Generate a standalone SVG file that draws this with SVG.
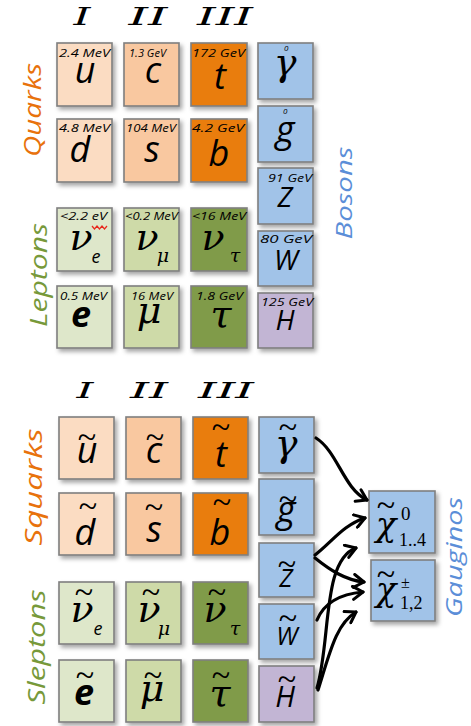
<svg xmlns="http://www.w3.org/2000/svg" width="471" height="726" viewBox="0 0 471 726">
<defs>
<filter id="sh" x="-20%" y="-20%" width="150%" height="150%">
<feDropShadow dx="2.5" dy="3" stdDeviation="2" flood-color="#000" flood-opacity="0.35"/>
</filter>
<marker id="ah" markerUnits="userSpaceOnUse" markerWidth="16" markerHeight="16" viewBox="0 0 16 16" refX="13" refY="8" orient="auto">
<path d="M3,1.5 L13,8 L3,14.5" fill="none" stroke="#000" stroke-width="3" stroke-linecap="round" stroke-linejoin="round"/>
</marker>
</defs>
<style>
rect{stroke:#7f7f7f;stroke-width:1.6;filter:url(#sh)}
.q1{fill:#fbdcc2}.q2{fill:#f9c8a0}.q3{fill:#e97d0b}
.l1{fill:#dee7ca}.l2{fill:#cedaa8}.l3{fill:#809b4a}
.bo{fill:#a1c3e8}.hg{fill:#c2b5d4}
text{fill:#000}
.s{font-family:"Open Sans",sans-serif;font-style:italic;font-size:36px;text-anchor:middle}
.g{font-family:"DejaVu Serif",serif;font-style:italic;font-size:38px;text-anchor:middle}
.sub{font-family:"DejaVu Serif",serif;font-style:italic;font-size:19px;text-anchor:middle}
.m{font-family:"Open Sans",sans-serif;font-style:italic;font-size:10px}
.h{font-family:"DejaVu Serif",serif;font-style:italic;font-size:24px;text-anchor:middle}
.t{font-family:"Liberation Serif",serif;font-size:34px;text-anchor:middle}
.side{font-family:"Open Sans",sans-serif;font-style:italic;font-size:24px;text-anchor:middle}
.c{font-family:"Liberation Serif",serif;font-size:18px}
.conn path{fill:none;stroke:#000;stroke-width:3.2;stroke-linecap:round;marker-end:url(#ah)}
</style>

<g id="headers-top">
<text class="h" x="82" y="25" textLength="17" lengthAdjust="spacingAndGlyphs">I</text>
<text class="h" x="148" y="25" textLength="39" lengthAdjust="spacingAndGlyphs">II</text>
<text class="h" x="225" y="25" textLength="56" lengthAdjust="spacingAndGlyphs">III</text>
</g>
<g id="label-quarks"><text class="side" style="fill:#e8720c" transform="translate(41,110) rotate(-90)" textLength="94" lengthAdjust="spacingAndGlyphs">Quarks</text></g>
<g id="label-leptons"><text class="side" style="fill:#77993a" transform="translate(47,275) rotate(-90)" textLength="104" lengthAdjust="spacingAndGlyphs">Leptons</text></g>
<g id="label-bosons"><text class="side" style="fill:#5b8ed8;font-size:21px" transform="translate(352,193) rotate(-90)" textLength="93" lengthAdjust="spacingAndGlyphs">Bosons</text></g>

<g id="u"><rect class="q1" x="57" y="43" width="55" height="63"/><text class="m" x="59" y="57" textLength="51" lengthAdjust="spacingAndGlyphs">2.4 MeV</text><text class="s" x="85" y="83">u</text></g>
<g id="c"><rect class="q2" x="124" y="43" width="55" height="63"/><text class="m" x="129" y="57" textLength="37" lengthAdjust="spacingAndGlyphs">1.3 GeV</text><text class="s" x="153" y="83">c</text></g>
<g id="t"><rect class="q3" x="191" y="43" width="56" height="63"/><text class="m" x="192" y="57" textLength="53" lengthAdjust="spacingAndGlyphs">172 GeV</text><text class="s" x="220" y="89">t</text></g>
<g id="d"><rect class="q1" x="57" y="119" width="55" height="63"/><text class="m" x="59" y="132" textLength="51" lengthAdjust="spacingAndGlyphs">4.8 MeV</text><text class="s" x="80" y="162">d</text></g>
<g id="s"><rect class="q2" x="124" y="119" width="55" height="63"/><text class="m" x="126" y="132" textLength="50" lengthAdjust="spacingAndGlyphs">104 MeV</text><text class="s" x="152" y="162">s</text></g>
<g id="b"><rect class="q3" x="191" y="119" width="56" height="63"/><text class="m" x="192" y="132" textLength="52" lengthAdjust="spacingAndGlyphs">4.2 GeV</text><text class="s" x="219" y="166">b</text></g>
<g id="nue"><rect class="l1" x="57" y="208" width="55" height="63"/><text class="m" x="60" y="220" textLength="47" lengthAdjust="spacingAndGlyphs">&lt;2.2 eV</text><path d="M92,226 l2.5,3 l2.5,-3 l2.5,3 l2.5,-3 l2.5,3 l2.5,-3" fill="none" stroke="#e8281e" stroke-width="1.2"/><text class="g" x="81" y="250">ν</text><text class="s" style="font-size:18px" x="96" y="263">e</text></g>
<g id="numu"><rect class="l2" x="124" y="208" width="55" height="63"/><text class="m" x="125" y="220" textLength="53" lengthAdjust="spacingAndGlyphs">&lt;0.2 MeV</text><text class="g" x="147" y="250">ν</text><text class="sub" x="163" y="262">μ</text></g>
<g id="nutau"><rect class="l3" x="191" y="208" width="56" height="63"/><text class="m" x="192" y="220" textLength="54" lengthAdjust="spacingAndGlyphs">&lt;16 MeV</text><text class="g" x="213" y="250">ν</text><text class="sub" x="235" y="262">τ</text></g>
<g id="e"><rect class="l1" x="57" y="286" width="55" height="62"/><text class="m" x="60" y="300" textLength="47" lengthAdjust="spacingAndGlyphs">0.5 MeV</text><text class="s" style="font-weight:bold" x="81" y="327">e</text></g>
<g id="mu"><rect class="l2" x="124" y="286" width="55" height="62"/><text class="m" x="131" y="300" textLength="42" lengthAdjust="spacingAndGlyphs">16 MeV</text><text class="g" x="149" y="323">μ</text></g>
<g id="tau"><rect class="l3" x="191" y="286" width="56" height="62"/><text class="m" x="196" y="300" textLength="47" lengthAdjust="spacingAndGlyphs">1.8 GeV</text><text class="g" x="221" y="327">τ</text></g>
<g id="gamma"><rect class="bo" x="258" y="43" width="55" height="56"/><text class="m" style="font-size:8px" x="284" y="51">0</text><text class="g" x="285" y="75">γ</text></g>
<g id="gluon"><rect class="bo" x="258" y="106" width="55" height="56"/><text class="m" style="font-size:8px" x="283" y="114">0</text><text class="s" x="285" y="142">g</text></g>
<g id="Z"><rect class="bo" x="258" y="168" width="55" height="56"/><text class="m" x="268" y="182" textLength="44" lengthAdjust="spacingAndGlyphs">91 GeV</text><text class="s" style="font-size:28px" x="285" y="207">Z</text></g>
<g id="W"><rect class="bo" x="258" y="231" width="55" height="55"/><text class="m" x="260" y="243" textLength="52" lengthAdjust="spacingAndGlyphs">80 GeV</text><text class="s" style="font-size:28px" x="286" y="270">W</text></g>
<g id="H"><rect class="hg" x="258" y="293" width="55" height="55"/><text class="m" x="261" y="306" textLength="52" lengthAdjust="spacingAndGlyphs">125 GeV</text><text class="s" style="font-size:28px" x="285" y="330">H</text></g>

<g id="headers-bottom">
<text class="h" style="font-size:22px" x="85" y="398" textLength="17" lengthAdjust="spacingAndGlyphs">I</text>
<text class="h" style="font-size:22px" x="149" y="398" textLength="38" lengthAdjust="spacingAndGlyphs">II</text>
<text class="h" style="font-size:22px" x="226" y="398" textLength="56" lengthAdjust="spacingAndGlyphs">III</text>
</g>
<g id="label-squarks"><text class="side" style="fill:#e8720c" transform="translate(42,487) rotate(-90)" textLength="117" lengthAdjust="spacingAndGlyphs">Squarks</text></g>
<g id="label-sleptons"><text class="side" style="fill:#77993a" transform="translate(45,647) rotate(-90)" textLength="115" lengthAdjust="spacingAndGlyphs">Sleptons</text></g>
<g id="label-gauginos"><text class="side" style="fill:#5b8ed8;font-size:21px" transform="translate(462,557) rotate(-90)" textLength="120" lengthAdjust="spacingAndGlyphs">Gauginos</text></g>

<g id="su"><rect class="q1" x="59" y="417" width="55" height="62"/><text class="t" x="87" y="448">~</text><text class="s" x="87" y="463">u</text></g>
<g id="sc"><rect class="q2" x="126" y="417" width="55" height="62"/><text class="t" x="155" y="448">~</text><text class="s" x="154" y="463">c</text></g>
<g id="st"><rect class="q3" x="193" y="417" width="55" height="62"/><text class="t" x="221" y="438">~</text><text class="s" x="221" y="467">t</text></g>
<g id="sd"><rect class="q1" x="59" y="493" width="55" height="62"/><text class="t" x="88" y="517">~</text><text class="s" x="85" y="545">d</text></g>
<g id="ss"><rect class="q2" x="126" y="493" width="55" height="62"/><text class="t" x="154" y="518">~</text><text class="s" x="154" y="542">s</text></g>
<g id="sb"><rect class="q3" x="193" y="493" width="55" height="62"/><text class="t" x="222" y="513">~</text><text class="s" x="220" y="545">b</text></g>
<g id="snue"><rect class="l1" x="59" y="582" width="55" height="62"/><text class="t" x="84" y="603">~</text><text class="g" x="82" y="622">ν</text><text class="s" style="font-size:18px" x="98" y="635">e</text></g>
<g id="snumu"><rect class="l2" x="126" y="582" width="55" height="62"/><text class="t" x="151" y="603">~</text><text class="g" x="149" y="622">ν</text><text class="sub" x="164" y="635">μ</text></g>
<g id="snutau"><rect class="l3" x="193" y="582" width="55" height="62"/><text class="t" x="217" y="603">~</text><text class="g" x="215" y="622">ν</text><text class="sub" x="235" y="635">τ</text></g>
<g id="se"><rect class="l1" x="59" y="660" width="55" height="62"/><text class="t" x="85" y="686">~</text><text class="s" style="font-weight:bold" x="84" y="705">e</text></g>
<g id="smu"><rect class="l2" x="126" y="660" width="55" height="62"/><text class="t" x="153" y="686">~</text><text class="g" x="152" y="701">μ</text></g>
<g id="stau"><rect class="l3" x="193" y="660" width="55" height="62"/><text class="t" x="221" y="686">~</text><text class="g" x="220" y="706">τ</text></g>
<g id="sgamma"><rect class="bo" x="259" y="417" width="55" height="56"/><text class="t" x="288" y="438">~</text><text class="g" x="286" y="456">γ</text></g>
<g id="sgluon"><rect class="bo" x="259" y="479" width="55" height="56"/><text class="t" x="288" y="510">~</text><text class="s" x="286" y="522">g</text></g>
<g id="sZ"><rect class="bo" x="259" y="543" width="55" height="54"/><text class="t" x="287" y="575">~</text><text class="s" style="font-size:25px" x="286" y="587">Z</text></g>
<g id="sW"><rect class="bo" x="259" y="604" width="55" height="55"/><text class="t" x="288" y="629">~</text><text class="s" style="font-size:25px" x="287" y="645">W</text></g>
<g id="sH"><rect class="hg" x="259" y="666" width="55" height="56"/><text class="t" x="287" y="690">~</text><text class="s" style="font-size:29px" x="285" y="707">H</text></g>
<g id="chi0"><rect class="bo" x="369" y="491" width="66" height="62"/><text class="t" x="386" y="516">~</text><text class="g" style="font-size:34px" x="386" y="536">χ</text><text class="c" x="401" y="520" style="font-size:19px">0</text><text class="c" x="399" y="546" style="font-size:18px">1..4</text></g>
<g id="chipm"><rect class="bo" x="371" y="560" width="64" height="61"/><text class="t" x="386" y="585">~</text><text class="g" style="font-size:34px" x="386" y="601">χ</text><text class="c" x="401" y="588" style="font-size:16px">±</text><text class="c" x="400" y="609" style="font-size:18px">1,2</text></g>

<g id="connectors" class="conn">
<path d="M316,438 C338,452 343,488 367,500"/>
<path d="M315,555 C332,542 343,525 365,518"/>
<path d="M315,558 C330,570 345,580 364,582"/>
<path d="M317,620 C324,603 340,594 363,592"/>
<path d="M317,688 C331,640 322,560 356,548"/>
<path d="M318,690 C330,652 336,624 356,612"/>
</g>
</svg>
